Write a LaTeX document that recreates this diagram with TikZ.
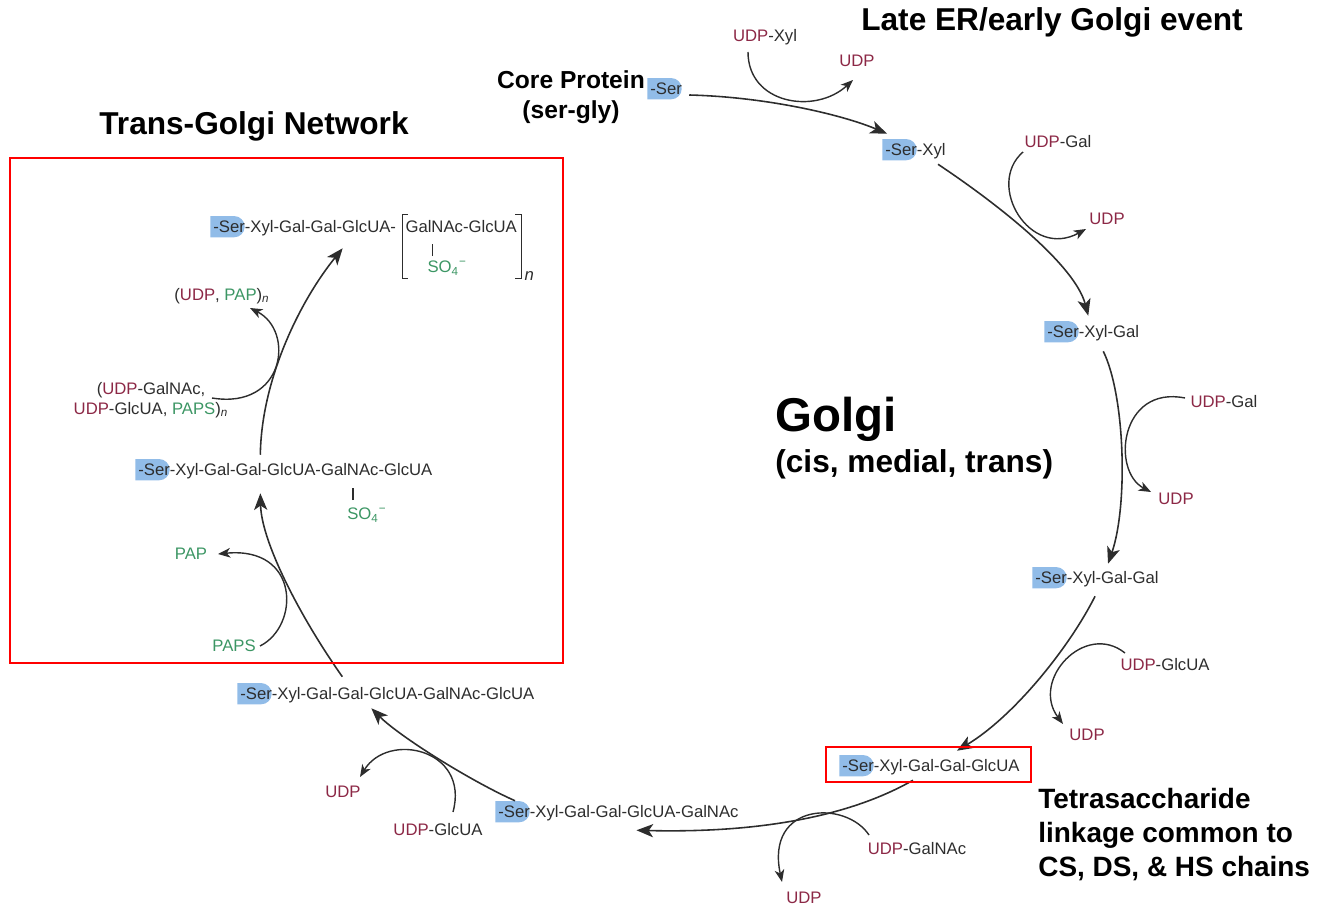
\documentclass[tikz,border=0pt]{standalone}
\usepackage{fontspec}
\setmainfont{Liberation Sans}
\usepackage{tikz}
\usetikzlibrary{positioning, arrows.meta, calc}

\definecolor{udpred}{RGB}{140,40,70}
\definecolor{sulfgreen}{RGB}{60,150,100}
\definecolor{serblue}{RGB}{145,188,232}
\definecolor{chaingray}{RGB}{45,45,45}

\newcommand{\udp}{\textcolor{udpred}{UDP}}
\newcommand{\sulf}[1]{\textcolor{sulfgreen}{#1}}
\newcommand{\subn}{\textsubscript{\itshape n}}

\begin{document}
\begin{tikzpicture}[x=0.02cm, y=-0.02cm]
    \tikzset{
        mol/.pic={
                \fill[serblue] (-1.5pt,-5.3pt) -- (12pt,-5.3pt) arc[start angle=-90, end angle=90, radius=6.05pt] -- (-1.5pt,6.8pt) -- cycle;
                \node[sugar, anchor=west] (-t) at (0,0) {-Ser#1};
            },
        sugarfont/.style={font=\fontsize{9.5}{11.3}\selectfont, text=chaingray, inner sep=0pt},
        sugar/.style={sugarfont, text height=7pt, text depth=2pt},
        title/.style={font=\fontsize{18}{21}\selectfont\bfseries, text=black, inner sep=0pt},
        golgifont/.style={font=\fontsize{27}{30}\selectfont\bfseries, text=black, inner sep=0pt},
        corefont/.style={font=\fontsize{14}{17}\selectfont\bfseries, text=black, inner sep=0pt},
        note/.style={font=\fontsize{15.9}{19.3}\selectfont\bfseries, text=black, inner sep=0pt, align=left},
        chainarrow/.style={draw=chaingray, line width=0.9pt, -{Stealth[length=9.5pt, width=7.5pt, inset=2.5pt]}},
        sidearrow/.style={draw=chaingray, line width=0.8pt, -{Stealth[length=7pt, width=5.5pt, inset=2pt]}},
        golgibox/.style={draw=red, line width=1.1pt},
        bond/.style={draw=chaingray, line width=0.6pt}
    }
    \useasboundingbox (0,0) rectangle (1317,912);

    % titles
    \node[title, anchor=base] (er) at (1052,31) {Late ER/early Golgi event};
    \node[title, anchor=base] (tgn) at (254,135) {Trans-Golgi Network};
    \node[golgifont, anchor=base west] (golgi) at (775,431) {Golgi};
    \node[title, anchor=base west] (cmt) at (775,472) {(cis, medial, trans)};
    \node[corefont, align=center, anchor=north] (core) at (571,70) {Core Protein\\(ser-gly)};
    \node[note, anchor=north west] (tetra) at (1038,788) {Tetrasaccharide\\linkage common to\\CS, DS, \& HS chains};

    % growing chain
    \pic (m0) at (650,90) {mol={}};
    \pic (m1) at (885,151) {mol={-Xyl}};
    \pic (m2) at (1047,333) {mol={-Xyl-Gal}};
    \pic (m3) at (1035,579) {mol={-Xyl-Gal-Gal}};
    \pic (m4) at (842,767) {mol={-Xyl-Gal-Gal-GlcUA}};
    \pic (m5) at (498,813) {mol={-Xyl-Gal-Gal-GlcUA-GalNAc}};
    \pic (m6) at (240,695) {mol={-Xyl-Gal-Gal-GlcUA-GalNAc-GlcUA}};
    \pic (m7) at (138,471) {mol={-Xyl-Gal-Gal-GlcUA-GalNAc-GlcUA}};
    \pic (m8) at (213,228) {mol={-Xyl-Gal-Gal-GlcUA-}};
    \node[sugar, anchor=base west, xshift=5pt] (m8r) at (m8-t.base east) {GalNAc-GlcUA};
    \node[sugar, anchor=west] (nn) at ($(m8r.north east)+(7,56)$) {\itshape n};

    % sulfate groups
    \node[sugar, text=sulfgreen, anchor=west] (so1) at ($(m7-t.south west)+(209,36)$) {SO\textsubscript{4}\textsuperscript{−}};
    \node[sugar, text=sulfgreen, anchor=west] (so2) at ($(m8r.south west)+(22,32)$) {SO\textsubscript{4}\textsuperscript{−}};
    \draw[bond] ($(so1.north west)+(6,-7)$) -- ++(0,-12);
    \draw[bond] ($(so2.north west)+(5,-4)$) -- ++(0,-12);
    \draw[bond] ($(m8r.north west)+(3,-5)$) -- ++(-6,0) -- ++(0,64) -- ++(6,0);
    \draw[bond] ($(m8r.north east)+(-2,-5)$) -- ++(6,0) -- ++(0,64) -- ++(-6,0);

    % donors and products
    \node[sugar] (u1) at (765,37) {\udp-Xyl};
    \node[sugar] (d1) at (857,62) {\udp};
    \node[sugar] (u2) at (1058,143) {\udp-Gal};
    \node[sugar] (d2) at (1107,220) {\udp};
    \node[sugar] (u3) at (1224,403) {\udp-Gal};
    \node[sugar] (d3) at (1176,500) {\udp};
    \node[sugar] (u4) at (1165,666) {\udp-GlcUA};
    \node[sugar] (d4) at (1087,736) {\udp};
    \node[sugar] (u5) at (917,850) {\udp-GalNAc};
    \node[sugar] (d5) at (804,899) {\udp};
    \node[sugar] (u6) at (438,831) {\udp-GlcUA};
    \node[sugar] (d6) at (343,793) {\udp};
    \node[sugar] (u7) at (234,647) {\sulf{PAPS}};
    \node[sugar] (d7) at (191,555) {\sulf{PAP}};
    \node[sugarfont, align=center] (u8) at (151,400) {(\udp-GalNAc,\\\udp-GlcUA, \sulf{PAPS})\subn};
    \node[sugar] (d8) at (222,296) {(\udp, \sulf{PAP})\subn};

    % chain steps
    \draw[chainarrow] ($(m0-t.east)+(7,5)$) .. controls +(80,2) and +(-42,-18) .. ($(m1-t.north west)+(2,-9)$);
    \draw[chainarrow] ($(m1-t.south east)+(-8,5)$) .. controls +(63,42) and +(-13,-50) .. ($(m2-t.north)+(-5,-9)$);
    \draw[chainarrow] ($(m2-t.south)+(10,10)$) .. controls +(22,45) and +(20,-58) .. ($(m3-t.north)+(11,-7)$);
    \draw[chainarrow] ($(m3-t.south)+(-2,9)$) .. controls +(-25,50) and +(58,-35) .. ($(m4-t.north)+(26,-8)$);
    \draw[chainarrow] ($(m4-t.south)+(-18,5)$) .. controls +(-63,36) and +(123,3) .. ($(m5-t.south)+(18,9)$);
    \draw[chainarrow] ($(m5-t.north west)+(17,-4)$) .. controls +(-45,-20) and +(28,28) .. ($(m6-t.south)+(-16,5)$);
    \draw[chainarrow] ($(m6-t.north)+(-45,-10)$) .. controls +(-43,-61) and +(1,48) .. ($(m7-t.south)+(-25,14)$);
    \draw[chainarrow] ($(m7-t.north)+(-25,-8)$) .. controls +(1,-75) and +(-43,53) .. ($(m8-t.south)+(38,12)$);

    % donor -> product
    \draw[sidearrow] ($(u1)+(-17,15)$) .. controls +(0,52) and +(-38,35) .. ($(d1)+(-4,18)$);
    \draw[sidearrow] ($(u2)+(-35,9)$) .. controls +(-38,33) and +(-56,31) .. ($(d2)+(-21,9)$);
    \draw[sidearrow] ($(u3)+(-39,-5)$) .. controls +(-65,-13) and +(-40,-21) .. ($(d3)+(-25,-8)$);
    \draw[sidearrow] ($(u4)+(-40,-13)$) .. controls +(-40,-32) and +(-33,-44) .. ($(d4)+(-24,-12)$);
    \draw[sidearrow] ($(u5)+(-48,-15)$) .. controls +(-23,-35) and +(-17,-80) .. ($(d5)+(-22,-17)$);
    \draw[sidearrow] ($(u6)+(15,-19)$) .. controls +(17,-63) and +(28,-46) .. ($(d6)+(17,-16)$);
    \draw[sidearrow] ($(u7)+(26,-1)$) .. controls +(40,-20) and +(82,-8) .. ($(d7)+(27,-1)$);
    \draw[sidearrow] ($(u8)+(61,-2)$) .. controls +(73,12) and +(45,23) .. ($(d8)+(28,12)$);

    % red frames
    \draw[golgibox] (10,158) rectangle (563,663);
    \draw[golgibox] ($(m4-t.north west)+(-16,-12)$) rectangle ($(m4-t.south east)+(11,7)$);
\end{tikzpicture}
\end{document}
